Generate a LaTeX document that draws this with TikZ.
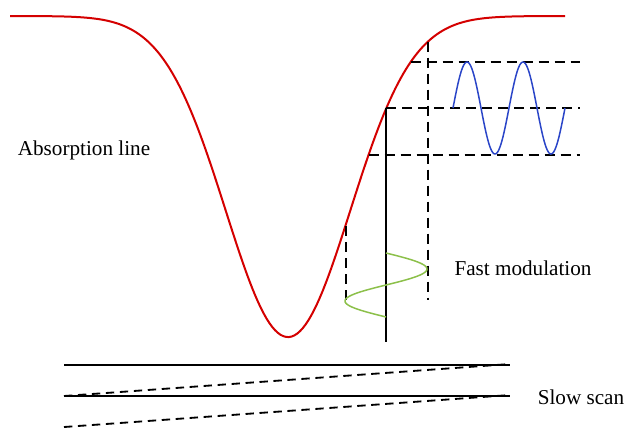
\documentclass[tikz,border=0pt]{standalone}
\usepackage{fontspec}
\setmainfont{Liberation Serif}
\usetikzlibrary{positioning,calc}
\definecolor{lineRed}{HTML}{D40000}
\definecolor{modBlue}{HTML}{2A45C8}
\definecolor{modGreen}{HTML}{8CC04A}

\begin{document}
\begin{tikzpicture}[x=0.6pt, y=-0.6pt,
  absline/.style={lineRed, line width=1.2pt},
  solidline/.style={black, line width=1.1pt},
  guide/.style={black, line width=1.35pt, dash pattern=on 6pt off 3.6pt},
  scanguide/.style={black, line width=1.1pt, dash pattern=on 5pt off 3.4pt},
  wave/.style={#1, line width=0.9pt, samples=120},
  txt/.style={font=\fontsize{12.7}{15}\selectfont, inner sep=0pt}
]
  \useasboundingbox (0,0) rectangle (627,427);

  % Absorption line
  \draw[absline, domain=10:565, samples=200]
    plot (\x, {16+321*exp(-((\x-288)/88)^2)});

  % Working points on the line
  \coordinate (hi) at (410.7,62);
  \coordinate (mid) at (386,108);
  \coordinate (lo) at (368.5,155);
  \coordinate (left) at (346,226);
  \coordinate (right) at (428,41.5);
  \coordinate (base) at (386,342);

  % Guides
  \draw[guide] (hi) -- (580,62);
  \draw[guide] (mid) -- (580,108);
  \draw[guide] (lo) -- (580,155);
  \draw[guide] (right) -- (428,300);
  \draw[guide] (left) -- (346,300);
  \draw[solidline] (mid) -- (base);

  % Modulation
  \draw[wave=modGreen, domain=253:317]
    plot ({386+41*sin(5.625*(\x-253))}, \x);
  \draw[wave=modBlue, domain=453:565]
    plot (\x, {108-46*sin(6.4286*(\x-453))});

  % Slow scan
  \coordinate (s1) at (64,365);
  \coordinate (e1) at (510,365);
  \coordinate (s2) at (64,396);
  \coordinate (e2) at (510,396);
  \draw[solidline] (s1) -- (e1);
  \draw[solidline] (s2) -- (e2);
  \draw[scanguide] (s2) -- (510,364);
  \draw[scanguide] (64,427) -- (510,395);

  % Labels
  \node[txt] (absorb) at (84,150) {Absorption line};
  \node[txt] (fastmod) at (523,268) {Fast modulation};
  \node[txt] (slowscan) at (581,397) {Slow scan};
\end{tikzpicture}
\end{document}
